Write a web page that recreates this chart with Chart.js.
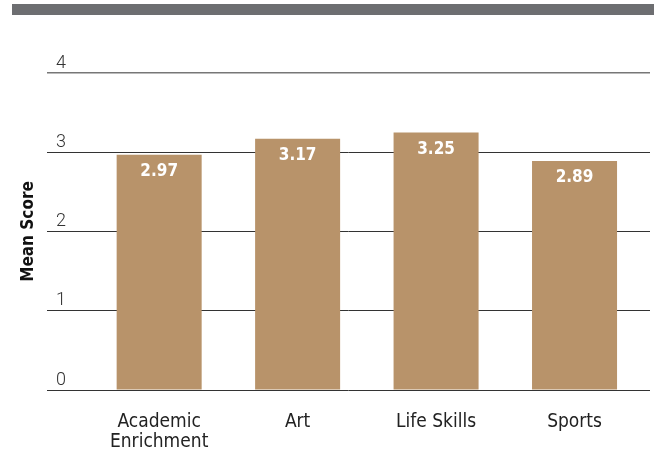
<!DOCTYPE html>
<html>
<head>
<meta charset="utf-8">
<script src="https://cdn.jsdelivr.net/npm/chart.js@4.4.0/dist/chart.umd.min.js"></script>
<style>
  body { margin: 0; background: #fff; }
  #wrap { position: relative; width: 654px; height: 451px; }
  #topbar { position: absolute; left: 12px; top: 4px; width: 642px; height: 11px; background: #6d6e71; }
  #chart { position: absolute; left: 0; top: 0; }
</style>
</head>
<body>
<div id="wrap">
  <div id="topbar"></div>
  <canvas id="chart" width="654" height="451"></canvas>
</div>
<script>
const categories = [["Academic", "Enrichment"], "Art", "Life Skills", "Sports"];
const meanScores = [2.97, 3.17, 3.25, 2.89];
const yTicks = [0, 1, 2, 3, 4];

const barColor = "#b8936a";
const narrow = "'Liberation Sans Narrow', 'DejaVu Sans Condensed', sans-serif";

// white value labels just under the top of each bar
const valueLabels = {
  id: "valueLabels",
  afterDraw(chart) {
    const ctx = chart.ctx;
    const meta = chart.getDatasetMeta(0);
    ctx.save();
    ctx.fillStyle = "#fff";
    ctx.font = "bold 17px " + narrow;
    ctx.textAlign = "center";
    ctx.textBaseline = "middle";
    meta.data.forEach((bar, i) => {
      ctx.fillText(meanScores[i].toFixed(2), bar.x, bar.y + 17);
    });
    ctx.restore();
  },
};

new Chart(document.getElementById("chart"), {
  type: "bar",
  data: {
    datasets: [
      {
        data: meanScores.map((v, i) => ({ x: i, y: v })),
        backgroundColor: barColor,
        barPercentage: 0.614,
        categoryPercentage: 1,
      },
    ],
  },
  options: {
    responsive: false,
    animation: false,
    layout: { padding: { top: 73, right: 4, left: 0, bottom: 0 } },
    plugins: {
      legend: { display: false },
      tooltip: { enabled: false },
    },
    scales: {
      x: {
        type: "linear",
        min: -0.81,
        max: 3.545,
        offset: false,
        grid: { display: false, offset: false },
        border: { display: false },
        afterBuildTicks: (scale) => {
          scale.ticks = categories.map((c, i) => ({ value: i }));
        },
        afterFit: (scale) => {
          scale.height = 61;
        },
        ticks: {
          autoSkip: false,
          maxRotation: 0,
          padding: 14,
          color: "#222",
          font: { family: narrow, size: 19, lineHeight: 1.05 },
          callback: (v) => categories[v],
        },
      },
      y: {
        min: 0,
        max: 4,
        z: 1,
        afterBuildTicks: (scale) => {
          scale.ticks = yTicks.map((v) => ({ value: v }));
        },
        afterFit: (scale) => {
          scale.width = 47;
        },
        grid: {
          drawTicks: false,
          color: (c) => (c.tick && c.tick.value === 4 ? "#777" : "#333"),
          lineWidth: (c) => (c.tick && c.tick.value === 4 ? 1.5 : 1),
        },
        border: { display: false },
        ticks: {
          mirror: true,
          labelOffset: -10,
          padding: 9,
          color: "#333",
          font: { family: "Roboto", weight: "300", size: 18 },
        },
        title: {
          display: true,
          text: "Mean Score",
          color: "#111",
          padding: { top: 18, bottom: 0 },
          font: { family: narrow, weight: "bold", size: 17 },
        },
      },
    },
  },
  plugins: [valueLabels],
});
</script>
</body>
</html>
